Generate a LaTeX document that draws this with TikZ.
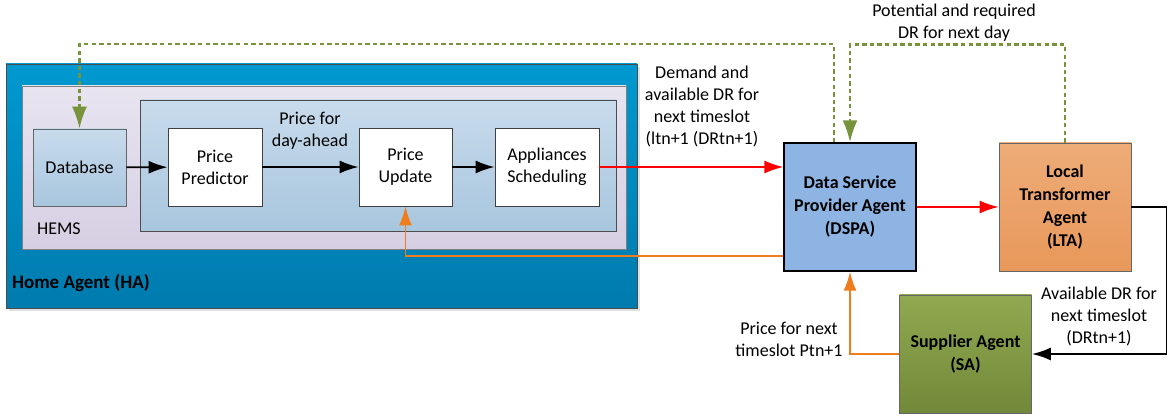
\documentclass[tikz,border=0pt]{standalone}
\usepackage{fontspec}
\setmainfont{Carlito}
\usetikzlibrary{arrows.meta}

\definecolor{hatop}{RGB}{0,153,208}
\definecolor{habot}{RGB}{0,123,174}
\definecolor{hemstop}{RGB}{232,228,240}
\definecolor{hemsbot}{RGB}{214,207,227}
\definecolor{innertop}{RGB}{200,219,236}
\definecolor{innerbot}{RGB}{168,198,222}
\definecolor{dspablue}{RGB}{142,180,227}
\definecolor{ltatop}{RGB}{238,172,120}
\definecolor{ltabot}{RGB}{232,152,90}
\definecolor{satop}{RGB}{145,169,80}
\definecolor{sabot}{RGB}{114,136,58}
\definecolor{drgreen}{RGB}{119,147,60}
\definecolor{priceorange}{RGB}{240,125,28}

\tikzset{
  block/.style={draw=black!75, fill=white, align=center, minimum height=39pt, inner sep=1pt},
  agent/.style={align=center, font=\fontsize{9}{11.5}\selectfont\bfseries, minimum width=66pt, minimum height=64pt},
  flow/.style={->, line width=0.9pt},
  redflow/.style={->, line width=0.8pt, red},
  orangeflow/.style={->, line width=0.9pt, priceorange},
  drflow/.style={-{Latex[length=11pt,width=7.5pt]}, line width=1.2pt, drgreen, dash pattern=on 2.2pt off 1.6pt},
}

\begin{document}
\begin{tikzpicture}[>={Latex[length=9.5pt,width=6.5pt]}, x=0.5pt, y=-0.5pt, font=\fontsize{9}{11}\selectfont]
        \useasboundingbox (0,0) rectangle (1171,416);
        % home agent and the HEMS inside it
        \fill[black!12] (9,67) rectangle (640,311);
        \draw[black!70, top color=hatop, bottom color=habot] (6,64) rectangle (637,308);
        \draw[black!50, top color=hemstop, bottom color=hemsbot] (22,86) rectangle (626,249);
        \draw[black!70, top color=innertop, bottom color=innerbot] (140.5,100) rectangle (616.5,231);
        \node[anchor=west] (hemslabel) at (30,229) {HEMS};
        \node[anchor=west, font=\fontsize{9.5}{11}\selectfont\bfseries] (halabel) at (5,283) {Home Agent (HA)};

        \node[block, draw=black!60, top color=innertop, bottom color=innerbot, minimum width=46.5pt, minimum height=38.5pt] (db) at (79.5,167.5) {Database};
        \node[block, minimum width=47pt] (pp) at (215,167) {Price\\Predictor};
        \node[block, minimum width=46.5pt] (pu) at (405.5,167) {Price\\Update};
        \node[block, minimum width=52pt] (as) at (547,167) {Appliances\\Scheduling};

        % agents
        \node[agent, draw=black, line width=0.7pt, fill=dspablue] (dspa) at (850,207) {Data Service\\Provider Agent\\(DSPA)};
        \node[agent, draw=black!60, top color=ltatop, bottom color=ltabot] (lta) at (1065,207) {Local\\Transformer\\Agent\\(LTA)};
        \node[agent, draw=black!60, top color=satop, bottom color=sabot, minimum height=59pt] (sa) at (965.5,354) {Supplier Agent\\(SA)};

        \draw[flow] (db) -- (pp);
        \draw[flow] (pp) -- (pu);
        \draw[flow] (pu) -- (as);
        \node[align=center] (dayahead) at (310,131) {Price for\\day-ahead};

        \draw[redflow] (as.east) -- (as.east -| dspa.west);
        \draw[redflow] (dspa) -- (lta);
        \draw[orangeflow] ([yshift=-24.5pt]dspa.west) -| (pu.south);
        \draw[orangeflow] (sa.west) -| (dspa.south);
        \draw[flow] (lta.east) -- ++(35,0) |- (sa.east);

        % day-ahead DR exchange
        \draw[drflow] ([xshift=-8pt]dspa.north) -- ++(0,-98) -| (db.north);
        \draw[drflow] (lta.north) -- ++(0,-98) -| (dspa.north);

        \node[align=center] (demand) at (702,107) {Demand and\\available DR for\\next timeslot\\(ltn+1 (DRtn+1)};
        \node[align=center] (potential) at (954,22.5) {Potential and required\\DR for next day};
        \node[align=center] (avail) at (1099,316) {Available DR for\\next timeslot\\(DRtn+1)};
        \node[align=center] (pricenext) at (789,339) {Price for next\\timeslot Ptn+1};
    \end{tikzpicture}
\end{document}
